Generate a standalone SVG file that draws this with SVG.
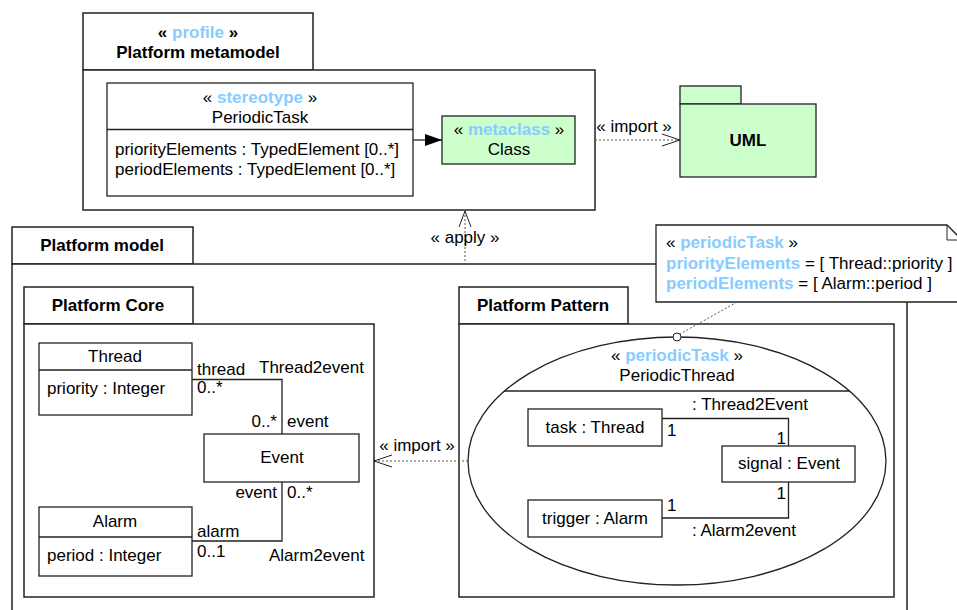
<svg xmlns="http://www.w3.org/2000/svg" width="957" height="610" viewBox="0 0 957 610">
<style>
text{font-family:"Liberation Sans",Arial,sans-serif;font-size:17px;fill:#000}
.b{font-weight:bold}
.st{fill:#88ccff;font-weight:bold}
.m{text-anchor:middle}
.e{text-anchor:end}
.box{fill:#fff;stroke:#222;stroke-width:1.3}
.pkg{fill:#fff;stroke:#222;stroke-width:1.5}
.grn{fill:#ccffcc;stroke:#222;stroke-width:1.3}
.ln{fill:none;stroke:#222;stroke-width:1.3}
.dash{fill:none;stroke:#555;stroke-width:1;stroke-dasharray:2,2}
.open{fill:none;stroke:#222;stroke-width:1}
</style>
<defs>
<marker id="tri" markerWidth="18" markerHeight="12" refX="17" refY="6" orient="auto" markerUnits="userSpaceOnUse">
<path d="M0,0 L17,6 L0,12 Z" fill="#000"/>
</marker>
</defs>

<g id="platform-model">
<rect class="pkg" x="12" y="227" width="181" height="37"/>
<path class="pkg" d="M12,264 H907 V620 H12 Z"/>
<text class="b m" x="102" y="251">Platform model</text>
</g>

<g id="platform-metamodel">
<rect class="pkg" x="83" y="13" width="230" height="57"/>
<rect class="pkg" x="83" y="70" width="512" height="140"/>
<text class="b m" x="198" y="38">« <tspan class="st">profile</tspan> »</text>
<text class="b m" x="198" y="58">Platform metamodel</text>
</g>

<g id="periodic-task">
<rect class="box" x="107" y="83" width="306" height="113"/>
<line class="ln" x1="107" y1="129.5" x2="413" y2="129.5"/>
<text class="m" x="260" y="103">« <tspan class="st">stereotype</tspan> »</text>
<text class="m" x="260" y="123">PeriodicTask</text>
<text x="115" y="155">priorityElements : TypedElement [0..*]</text>
<text x="115" y="175">periodElements : TypedElement [0..*]</text>
</g>

<g id="class">
<rect class="grn" x="442" y="116" width="133" height="48"/>
<text class="m" x="509" y="135">« <tspan class="st">metaclass</tspan> »</text>
<text class="m" x="509" y="155">Class</text>
</g>

<g id="uml">
<rect class="grn" x="680" y="86" width="61" height="18"/>
<rect class="grn" x="680" y="104" width="136" height="73"/>
<text class="b m" x="748" y="146">UML</text>
</g>

<g id="note">
<path class="box" d="M656,225 H947 L962,240 V302 H656 Z"/>
<path class="open" d="M947,225 V240 H962"/>
<text x="666" y="248">« <tspan class="st">periodicTask</tspan> »</text>
<text x="666" y="269"><tspan class="st">priorityElements</tspan> = [ Thread::priority ]</text>
<text x="666" y="289"><tspan class="st">periodElements</tspan> = [ Alarm::period ]</text>
</g>

<g id="platform-core">
<rect class="pkg" x="24" y="287" width="169" height="37"/>
<rect class="pkg" x="24" y="324" width="350" height="273"/>
<text class="b m" x="108" y="311">Platform Core</text>
</g>

<g id="thread">
<rect class="box" x="39" y="343" width="153" height="72"/>
<line class="ln" x1="39" y1="370" x2="192" y2="370"/>
<text class="m" x="115" y="362">Thread</text>
<text x="47" y="394">priority : Integer</text>
</g>

<g id="event">
<rect class="box" x="204" y="434" width="155" height="48"/>
<text class="m" x="282" y="463">Event</text>
</g>

<g id="alarm">
<rect class="box" x="39" y="507" width="153" height="69"/>
<line class="ln" x1="39" y1="537" x2="192" y2="537"/>
<text class="m" x="115" y="527">Alarm</text>
<text x="47" y="561">period : Integer</text>
</g>

<g id="platform-pattern">
<rect class="pkg" x="459" y="287" width="169" height="37"/>
<rect class="pkg" x="459" y="324" width="435" height="273"/>
<text class="b m" x="543" y="311">Platform Pattern</text>
</g>

<g id="periodic-thread">
<ellipse class="box" cx="677" cy="461" rx="209" ry="124"/>
<line class="ln" x1="504" y1="391" x2="850" y2="391"/>
<text class="m" x="677" y="361">« <tspan class="st">periodicTask</tspan> »</text>
<text class="m" x="677" y="381">PeriodicThread</text>
</g>

<g id="task">
<rect class="box" x="528" y="409" width="134" height="37"/>
<text class="m" x="595" y="433">task : Thread</text>
</g>

<g id="signal">
<rect class="box" x="722" y="446" width="133" height="36"/>
<text class="m" x="789" y="469">signal : Event</text>
</g>

<g id="trigger">
<rect class="box" x="528" y="500" width="134" height="37"/>
<text class="m" x="595" y="524">trigger : Alarm</text>
</g>

<g id="connectors">
<line class="ln" x1="413" y1="140" x2="442" y2="140" marker-end="url(#tri)"/>
<line class="dash" x1="595" y1="140" x2="680" y2="140"/>
<path class="open" d="M662,134 L680,140 L662,146"/>
<text class="m" x="634" y="132">« import »</text>
<line class="dash" x1="465" y1="265" x2="465" y2="211"/>
<path class="open" d="M459,227 L465,211 L471,227"/>
<text class="m" x="465" y="243">« apply »</text>
<line class="dash" x1="468" y1="461" x2="374" y2="461"/>
<path class="open" d="M392,455 L374,461 L392,467"/>
<text class="m" x="417" y="451">« import »</text>
<line class="dash" x1="737" y1="302" x2="680" y2="334"/>
<circle cx="677" cy="337" r="4" fill="#fff" stroke="#222" stroke-width="1"/>
<path class="ln" d="M192,379.5 H282 V434"/>
<text x="197" y="375">thread</text>
<text x="197" y="393">0..*</text>
<text x="259" y="373">Thread2event</text>
<text class="e" x="277" y="427">0..*</text>
<text x="287" y="427">event</text>
<path class="ln" d="M192,541 H282 V482"/>
<text x="197" y="537">alarm</text>
<text x="197" y="557">0..1</text>
<text x="269" y="561">Alarm2event</text>
<text class="e" x="277" y="498">event</text>
<text x="287" y="498">0..*</text>
<path class="ln" d="M662,418.5 H788.5 V446"/>
<text x="692" y="410">: Thread2Event</text>
<text x="667" y="436">1</text>
<text class="e" x="786" y="444">1</text>
<path class="ln" d="M662,518 H788.5 V482"/>
<text x="692" y="536">: Alarm2event</text>
<text x="667" y="511">1</text>
<text class="e" x="786" y="499">1</text>
</g>
</svg>
